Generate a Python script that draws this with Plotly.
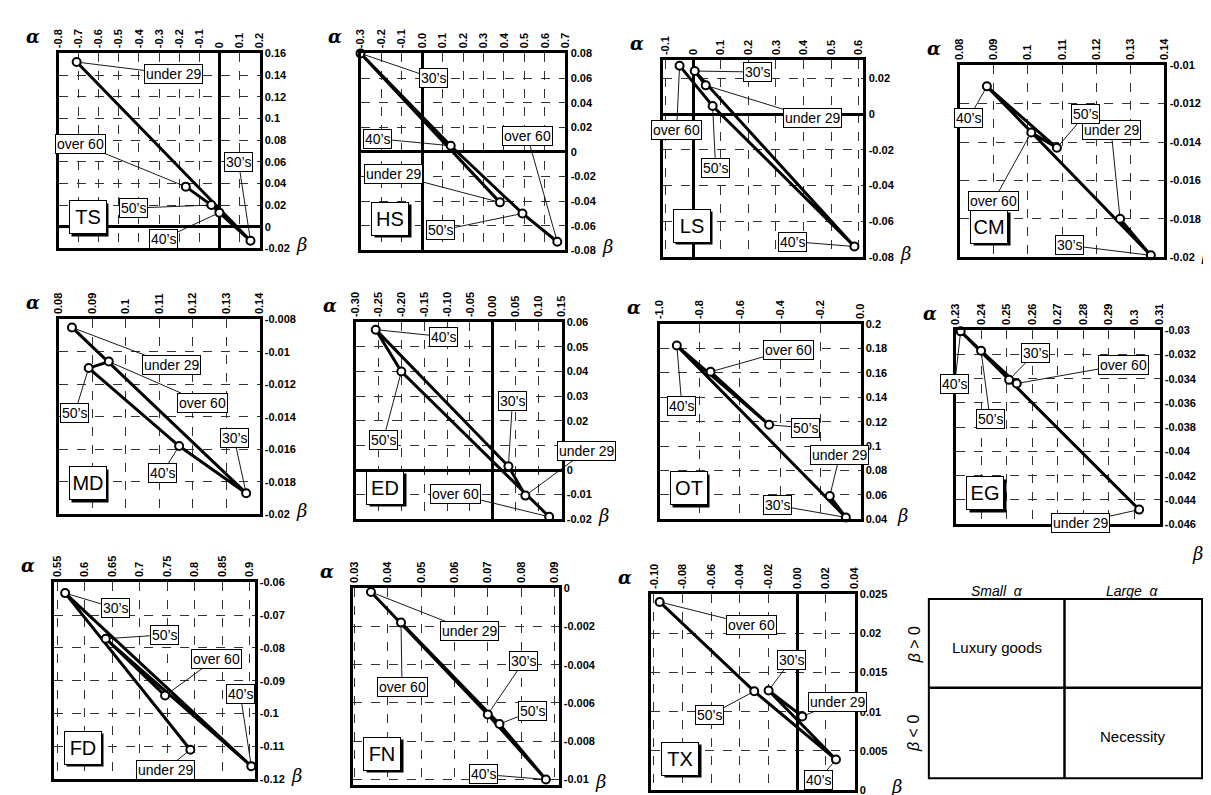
import plotly.graph_objects as go

W, H = 1211, 795

ages = ["under 29", "30’s", "40’s", "50’s", "over 60"]
panels = ["TS", "HS", "LS", "CM", "MD", "ED", "OT", "EG", "FD", "FN", "TX"]

# ---- data: alpha (x) and beta (y) per age group, order = ages ----
TS_alpha = [-0.71, 0.155, 0.0, -0.04, -0.167]
TS_beta = [0.152, -0.013, 0.013, 0.020, 0.037]
HS_alpha = [0.38, -0.30, 0.14, 0.49, 0.66]
HS_beta = [-0.041, 0.080, 0.005, -0.050, -0.073]
LS_alpha = [0.045, 0.005, 0.585, 0.07, -0.05]
LS_beta = [0.016, 0.024, -0.074, 0.0045, 0.027]
CM_alpha = [0.127, 0.136, 0.088, 0.1085, 0.101]
CM_beta = [-0.0180, -0.0199, -0.0111, -0.0143, -0.0135]
MD_alpha = [0.084, 0.136, 0.116, 0.089, 0.095]
MD_beta = [-0.0085, -0.0187, -0.0158, -0.0110, -0.0106]
ED_alpha = [0.071, 0.034, -0.256, -0.200, 0.123]
ED_beta = [-0.0104, 0.0015, 0.057, 0.040, -0.019]
OT_alpha = [-0.153, -0.073, -0.914, -0.455, -0.746]
OT_beta = [0.059, 0.0415, 0.1825, 0.1175, 0.161]
EG_alpha = [0.302, 0.251, 0.232, 0.240, 0.254]
EG_beta = [-0.0448, -0.0341, -0.0301, -0.0317, -0.0344]
FD_alpha = [0.792, 0.564, 0.903, 0.638, 0.746]
FD_beta = [-0.111, -0.0633, -0.116, -0.0772, -0.0945]
FN_alpha = [0.035, 0.070, 0.0874, 0.0735, 0.044]
FN_beta = [-0.0002, -0.0066, -0.0100, -0.0071, -0.0018]
TX_alpha = [0.0035, -0.020, 0.027, -0.030, -0.096]
TX_beta = [0.0094, 0.0127, 0.0039, 0.0126, 0.024]

# ---- tick values ----
TS_xticks = [-0.8, -0.7, -0.6, -0.5, -0.4, -0.3, -0.2, -0.1, 0, 0.1, 0.2]
TS_yticks = [-0.02, 0, 0.02, 0.04, 0.06, 0.08, 0.1, 0.12, 0.14, 0.16]
HS_xticks = [-0.3, -0.2, -0.1, 0.0, 0.1, 0.2, 0.3, 0.4, 0.5, 0.6, 0.7]
HS_yticks = [-0.08, -0.06, -0.04, -0.02, 0, 0.02, 0.04, 0.06, 0.08]
LS_xticks = [-0.1, 0, 0.1, 0.2, 0.3, 0.4, 0.5, 0.6]
LS_yticks = [-0.08, -0.06, -0.04, -0.02, 0, 0.02]
CM_xticks = [0.08, 0.09, 0.1, 0.11, 0.12, 0.13, 0.14]
CM_yticks = [-0.02, -0.018, -0.016, -0.014, -0.012, -0.01]
MD_xticks = [0.08, 0.09, 0.1, 0.11, 0.12, 0.13, 0.14]
MD_yticks = [-0.02, -0.018, -0.016, -0.014, -0.012, -0.01, -0.008]
ED_xticks = [-0.30, -0.25, -0.20, -0.15, -0.10, -0.05, 0.00, 0.05, 0.10, 0.15]
ED_yticks = [-0.02, -0.01, 0, 0.01, 0.02, 0.03, 0.04, 0.05, 0.06]
OT_xticks = [-1.0, -0.8, -0.6, -0.4, -0.2, 0.0]
OT_yticks = [0.04, 0.06, 0.08, 0.1, 0.12, 0.14, 0.16, 0.18, 0.2]
EG_xticks = [0.23, 0.24, 0.25, 0.26, 0.27, 0.28, 0.29, 0.3, 0.31]
EG_yticks = [-0.046, -0.044, -0.042, -0.04, -0.038, -0.036, -0.034, -0.032, -0.03]
FD_xticks = [0.55, 0.6, 0.65, 0.7, 0.75, 0.8, 0.85, 0.9]
FD_yticks = [-0.12, -0.11, -0.1, -0.09, -0.08, -0.07, -0.06]
FN_xticks = [0.03, 0.04, 0.05, 0.06, 0.07, 0.08, 0.09]
FN_yticks = [-0.01, -0.008, -0.006, -0.004, -0.002, 0]
TX_xticks = [-0.10, -0.08, -0.06, -0.04, -0.02, 0.00, 0.02, 0.04]
TX_yticks = [0, 0.005, 0.01, 0.015, 0.02, 0.025]

# tick labels hidden under a callout in the original
hidden_yticks = {"ED": [0.01]}

data = {
    "TS": (TS_alpha, TS_beta, TS_xticks, TS_yticks),
    "HS": (HS_alpha, HS_beta, HS_xticks, HS_yticks),
    "LS": (LS_alpha, LS_beta, LS_xticks, LS_yticks),
    "CM": (CM_alpha, CM_beta, CM_xticks, CM_yticks),
    "MD": (MD_alpha, MD_beta, MD_xticks, MD_yticks),
    "ED": (ED_alpha, ED_beta, ED_xticks, ED_yticks),
    "OT": (OT_alpha, OT_beta, OT_xticks, OT_yticks),
    "EG": (EG_alpha, EG_beta, EG_xticks, EG_yticks),
    "FD": (FD_alpha, FD_beta, FD_xticks, FD_yticks),
    "FN": (FN_alpha, FN_beta, FN_xticks, FN_yticks),
    "TX": (TX_alpha, TX_beta, TX_xticks, TX_yticks),
}

# ---- layout (pixels): plot box left, right, top, bottom ----
boxes = {
    "TS": (45, 248, 40, 238), "HS": (350, 557, 40, 240),
    "LS": (655, 858, 47, 247), "CM": (955, 1162, 52, 247),
    "MD": (45, 248, 310, 508), "ED": (345, 553, 313, 513),
    "OT": (652, 855, 315, 513), "EG": (951, 1157, 321, 518),
    "FD": (40, 243, 577, 777), "FN": (342, 550, 583, 783),
    "TX": (643, 849, 589, 788),
}
ranges = {
    "TS": ([-0.8, 0.2], [-0.02, 0.16]), "HS": ([-0.3, 0.7], [-0.08, 0.08]),
    "LS": ([-0.112, 0.618], [-0.08, 0.03]), "CM": ([0.08, 0.14], [-0.02, -0.01]),
    "MD": ([0.08, 0.14], [-0.02, -0.008]), "ED": ([-0.30, 0.15], [-0.02, 0.06]),
    "OT": ([-1.0, 0.0], [0.04, 0.2]), "EG": ([0.23, 0.31], [-0.046, -0.03]),
    "FD": ([0.543, 0.909], [-0.12, -0.06]), "FN": ([0.0295, 0.0912], [-0.0103, 0]),
    "TX": ([-0.1023, 0.04], [0, 0.025]),
}
xfmt = {"HS": ".1f", "OT": ".1f", "ED": ".2f", "TX": ".2f"}

# label offsets (pixels, relative to point) in age order
offsets = {
    "TS": [(97, 12), (-12, -79), (-56, 26), (-78, 3), (-105, -43)],
    "HS": [(-106, -28), (73, 25), (-73, -7), (-82, 17), (-30, -106)],
    "LS": [(107, 33), (63, 1), (-62, -5), (3, 62), (-3, 64)],
    "CM": [(-9, -89), (-81, -10), (-18, 32), (29, -34), (-38, 69)],
    "MD": [(100, 38), (-12, -55), (-17, 27), (-14, 45), (94, 41)],
    "ED": [(61, -45), (4, -65), (68, 7), (-18, 68), (-94, -23)],
    "OT": [(10, -41), (-68, -12), (5, 60), (36, 3), (78, -22)],
    "EG": [(-59, 13), (26, -27), (-6, 53), (9, 68), (107, -19)],
    "FD": [(-25, 20), (50, 15), (-11, -72), (59, -4), (51, -37)],
    "FN": [(99, 39), (36, -53), (-62, -5), (33, -13), (1, 64)],
    "TX": [(35, -14), (23, -31), (-17, 20), (-45, 24), (92, 23)],
}

FONT = "Liberation Sans, Arial, sans-serif"


def fmt(v, f):
    if f:
        s = format(v, f)
    else:
        s = format(round(v, 6), "g")
    if s.startswith("-") and float(s) == 0:
        s = s[1:]
    return s


def px(x):
    return x / W


def py(y):
    return 1 - y / H


fig = go.Figure()
layout = {}
annotations = []
shapes = []

for i, p in enumerate(panels):
    n = i + 1
    suf = "" if n == 1 else str(n)
    xa, ya = "x" + suf, "y" + suf
    a, b, xt, yt = data[p]
    L, R, T, B = boxes[p]
    xr, yr = ranges[p]

    fig.add_trace(go.Scatter(
        x=a, y=b, xaxis=xa, yaxis=ya, mode="lines+markers",
        line=dict(color="black", width=3),
        marker=dict(symbol="circle", size=8, color="white",
                    line=dict(color="black", width=2)),
        cliponaxis=False, showlegend=False, hoverinfo="skip"))

    common = dict(showgrid=True, gridcolor="#333", gridwidth=1, griddash="dash",
                  zeroline=True, zerolinecolor="black", zerolinewidth=3,
                  showline=True, linecolor="black", linewidth=3, mirror=True,
                  ticks="", fixedrange=True,
                  tickfont=dict(family=FONT, size=11, color="black", weight="bold"))
    hid = hidden_yticks.get(p, [])
    layout["xaxis" + suf] = dict(
        domain=[px(L), px(R)], range=xr, side="top", anchor=ya,
        tickmode="array", tickvals=xt, ticktext=[fmt(v, xfmt.get(p)) for v in xt],
        tickangle=-90, **common)
    layout["yaxis" + suf] = dict(
        domain=[py(B), py(T)], range=yr, side="right", anchor=xa,
        tickmode="array", tickvals=yt,
        ticktext=["" if v in hid else fmt(v, None) for v in yt],
        **common)

    # age labels
    for k, age in enumerate(ages):
        ax, ay = offsets[p][k]
        annotations.append(dict(
            x=a[k], y=b[k], xref=xa, yref=ya, text=age, showarrow=True,
            ax=ax, ay=ay, arrowhead=0, arrowwidth=0.9, arrowcolor="black",
            standoff=3, font=dict(family=FONT, size=14, color="black"),
            bgcolor="white", bordercolor="black", borderwidth=1, borderpad=1))

    # panel name box with shadow
    annotations.append(dict(
        x=0.145, y=0.16, xref=xa + " domain", yref=ya + " domain", text="",
        xanchor="center", yanchor="middle",
        showarrow=False, width=34, height=30, bgcolor="black",
        xshift=2.5, yshift=-2.5))
    annotations.append(dict(
        x=0.145, y=0.16, xref=xa + " domain", yref=ya + " domain", text=p,
        xanchor="center", yanchor="middle",
        showarrow=False, width=34, height=30, bgcolor="white",
        bordercolor="black", borderwidth=1,
        font=dict(family=FONT, size=20, color="black")))

    # alpha / beta axis names
    annotations.append(dict(
        x=px(L - 26), y=py(T - 17), xref="paper", yref="paper", text="<i><b>α</b></i>",
        xanchor="center", yanchor="middle",
        showarrow=False, font=dict(family="DejaVu Serif, serif", size=18, color="black")))
    bx, by = R + 42, B - 4
    if p == "EG":
        bx, by = R + 38, B + 30
    annotations.append(dict(
        x=px(bx), y=py(by), xref="paper", yref="paper", text="<i>β</i>",
        xanchor="center", yanchor="middle",
        showarrow=False, font=dict(family="DejaVu Serif, serif", size=18, color="black")))

# ---- explanation quadrant box ----
QL, QR, QT, QB, QX, QY = 924, 1200, 594, 776, 1061, 684
shapes.append(dict(type="rect", xref="paper", yref="paper", x0=px(QL), x1=px(QR),
                   y0=py(QB), y1=py(QT), line=dict(color="black", width=2)))
shapes.append(dict(type="line", xref="paper", yref="paper", x0=px(QX), x1=px(QX),
                   y0=py(QB), y1=py(QT), line=dict(color="black", width=2.5)))
shapes.append(dict(type="line", xref="paper", yref="paper", x0=px(QL), x1=px(QR),
                   y0=py(QY), y1=py(QY), line=dict(color="black", width=2.5)))
qtexts = [
    ("<i>Small  α</i>", 993, 586, 0, 14),
    ("<i>Large  α</i>", 1130, 586, 0, 14),
    ("<i>β</i> > 0", 909, 640, -90, 16),
    ("<i>β</i> < 0", 909, 730, -90, 16),
    ("Luxury goods", 993, 643, 0, 15),
    ("Necessity", 1130, 734, 0, 15),
]
for t, x, y, ang, sz in qtexts:
    annotations.append(dict(x=px(x), y=py(y), xref="paper", yref="paper", text=t,
                            showarrow=False, textangle=ang,
                            xanchor="center", yanchor="middle",
                            font=dict(family=FONT, size=sz, color="black")))

fig.update_layout(
    width=W, height=H, margin=dict(l=0, r=0, t=0, b=0),
    paper_bgcolor="white", plot_bgcolor="white",
    annotations=annotations, shapes=shapes, **layout)

fig.write_html("out.html")
